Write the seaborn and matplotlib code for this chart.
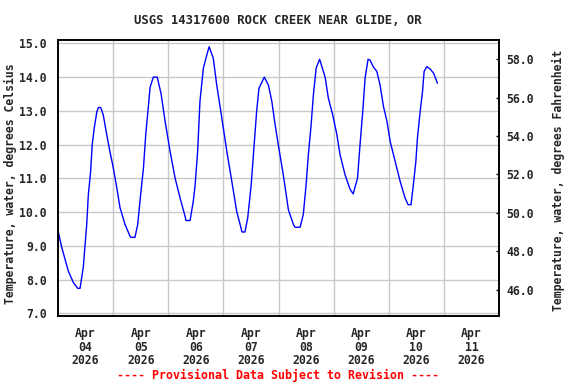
import numpy as np
import pandas as pd
import matplotlib
matplotlib.use("Agg")
import matplotlib.pyplot as plt
import matplotlib.dates as mdates
from matplotlib.ticker import FormatStrFormatter
import seaborn as sns

# hours since 2026-04-04 00:00 and water temperature (deg C)
hours = [0.0, 1.6, 4.5, 6.7, 8.6, 9.6, 11.0, 12.5, 13.2, 14.2, 14.9, 15.8, 16.9, 17.6,
         18.6, 19.7, 21.2, 22.6, 24.1, 25.6, 27.0, 29.2, 31.4, 31.8, 33.5, 34.7, 36.1,
         37.2, 38.2, 39.3, 40.1, 41.5, 43.2, 44.9, 46.6, 48.8, 51.0, 53.1, 55.3, 55.7,
         57.5, 58.9, 59.7, 60.8, 61.8, 63.3, 64.8, 65.8, 67.6, 69.1, 71.3, 73.5, 75.7,
         77.8, 79.3, 80.1, 81.4, 82.6, 84.1, 85.4, 86.5, 87.5, 89.8, 91.6, 93.1, 94.5,
         95.9, 98.1, 100.3, 102.5, 103.2, 105.4, 106.8, 108.0, 109.0, 110.1, 111.2,
         112.4, 113.9, 116.3, 117.7, 119.6, 121.4, 122.8, 125.0, 127.2, 128.5, 130.4,
         131.5, 132.7, 133.7, 135.0, 135.9, 137.3, 138.8, 140.2, 141.7, 143.2, 144.6,
         146.8, 149.0, 151.1, 152.4, 153.7, 154.7, 155.8, 156.5, 157.7, 158.7, 159.4,
         160.6, 162.0, 163.5, 164.2, 165.2]
temp_c = [9.45, 8.96, 8.25, 7.91, 7.74, 7.74, 8.36, 9.63, 10.5, 11.2, 12.0, 12.5, 12.97, 13.1,
          13.1, 12.88, 12.3, 11.8, 11.3, 10.72, 10.13, 9.63, 9.28, 9.25, 9.25, 9.63, 10.6,
          11.3, 12.3, 13.1, 13.7, 14.0, 14.0, 13.5, 12.7, 11.8, 11.0, 10.43, 9.88, 9.75,
          9.75, 10.32, 10.8, 11.8, 13.28, 14.27, 14.66, 14.9, 14.56, 13.77, 12.8, 11.8, 10.9,
          10.02, 9.63, 9.41, 9.41, 9.83, 10.8, 12.0, 13.0, 13.67, 14.0, 13.77, 13.28, 12.6,
          12.0, 11.1, 10.07, 9.63, 9.55, 9.55, 9.93, 10.8, 11.7, 12.5, 13.48,
          14.27, 14.53, 14.0, 13.38, 12.88, 12.3, 11.7, 11.1, 10.67, 10.54, 11.0,
          12.0, 13.0, 13.97, 14.53, 14.5, 14.3, 14.17, 13.77, 13.13, 12.7, 12.1,
          11.5, 10.9, 10.42, 10.22, 10.22, 10.8, 11.5, 12.2, 13.0, 13.57, 14.17,
          14.31, 14.24, 14.12, 14.0, 13.82]

day_labels = ["Apr\n04\n2026", "Apr\n05\n2026", "Apr\n06\n2026", "Apr\n07\n2026",
              "Apr\n08\n2026", "Apr\n09\n2026", "Apr\n10\n2026", "Apr\n11\n2026"]
left_ticks = [7.0, 8.0, 9.0, 10.0, 11.0, 12.0, 13.0, 14.0, 15.0]
right_ticks = [46.0, 48.0, 50.0, 52.0, 54.0, 56.0, 58.0]

title = "USGS 14317600 ROCK CREEK NEAR GLIDE, OR"
footer = "---- Provisional Data Subject to Revision ----"

start = pd.Timestamp("2026-04-04")
df = pd.DataFrame({"time": start + pd.to_timedelta(hours, unit="h"), "temp": temp_c})

sns.set_style("white")
plt.rcParams["font.family"] = ["DejaVu Sans Mono"]
plt.rcParams["font.weight"] = "bold"

fig = plt.figure(figsize=(5.76, 3.84), dpi=100)
ax = fig.add_axes([58 / 576, 1 - 316 / 384, 441 / 576, 276 / 384])

sns.lineplot(data=df, x="time", y="temp", ax=ax, color="#0000ff", linewidth=1.0)

ax.set_xlim(start, start + pd.Timedelta(days=8))
ax.set_ylim(6.92, 15.1)

midnights = [start + pd.Timedelta(days=i) for i in range(1, 8)]
noons = [start + pd.Timedelta(days=i, hours=12) for i in range(8)]
ax.set_xticks(mdates.date2num(noons))
ax.set_xticklabels(day_labels, fontsize=8.3, fontweight="bold", linespacing=1.05)
ax.set_xticks(mdates.date2num(midnights), minor=True)
ax.tick_params(axis="x", which="both", length=0, pad=8)

ax.set_yticks(left_ticks)
ax.yaxis.set_major_formatter(FormatStrFormatter("%.1f"))
ax.tick_params(axis="y", length=0, pad=8, labelsize=8.3)
for lbl in ax.get_yticklabels():
    lbl.set_fontweight("bold")

ax.grid(False)
ax.grid(True, which="minor", axis="x", color="#c8c8c8", linewidth=1.0)
ax.grid(True, which="major", axis="y", color="#c8c8c8", linewidth=1.0)
ax.set_axisbelow(True)

ax.set_xlabel("")
ax.set_ylabel("Temperature, water, degrees Celsius", fontsize=8.3, fontweight="bold")
ax.yaxis.set_label_coords(-41 / 441, 0.48)

ax2 = ax.twinx()
ax2.set_ylim(44.62, 59.0)
ax2.set_yticks(right_ticks)
ax2.yaxis.set_major_formatter(FormatStrFormatter("%.1f"))
ax2.tick_params(axis="y", direction="in", length=2.5, width=1.0, pad=5, labelsize=8.3, color="black")
for lbl in ax2.get_yticklabels():
    lbl.set_fontweight("bold")
ax2.set_ylabel("Temperature, water, degrees Fahrenheit", fontsize=8.3, fontweight="bold")
ax2.yaxis.set_label_coords(494 / 441, 0.49)
ax2.grid(False)

for a in (ax, ax2):
    for sp in a.spines.values():
        sp.set_visible(True)
        sp.set_color("black")
        sp.set_linewidth(1.2)

fig.text(278 / 576, 1 - 20 / 384, title, ha="center", va="center", fontsize=8.8, fontweight="bold")
fig.text(278 / 576, 1 - 375 / 384, footer, ha="center", va="center", fontsize=8.4,
         fontweight="bold", color="#ff0000")

fig.savefig("out.png", dpi=100)
